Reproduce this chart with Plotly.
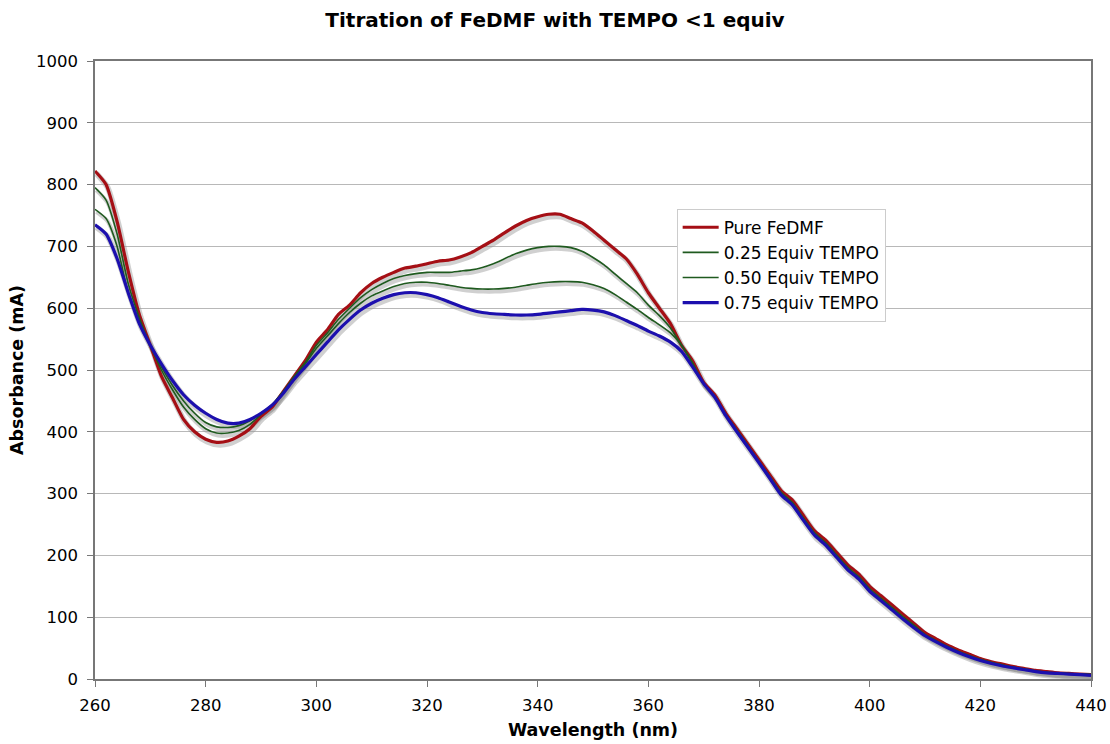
import plotly.graph_objects as go

wl = list(range(260, 442, 2))

pure = [822, 800, 740, 660, 590, 540, 490, 455, 420, 400, 388, 383, 385, 393, 405, 425,
        440, 465, 490, 515, 545, 565, 590, 605, 625, 640, 650, 658, 665, 668, 672, 676,
        678, 683, 690, 700, 710, 722, 733, 742, 748, 752, 752, 745, 738, 725, 710, 695,
        680, 655, 625, 600, 575, 540, 515, 480, 460, 430, 405, 380, 355, 330, 305, 290,
        265, 240, 225, 205, 185, 170, 150, 135, 120, 105, 90, 75, 65, 55, 47, 40,
        33, 28, 24, 20, 17, 14, 12, 10, 9, 8, 7]

eq25 = [795, 775, 720, 640, 585, 540, 500, 468, 440, 420, 405, 398, 398, 402, 412, 428,
        442, 465, 490, 512, 540, 560, 582, 600, 617, 630, 640, 648, 653, 656, 658, 658,
        658, 660, 662, 666, 672, 680, 688, 694, 698, 700, 700, 698, 692, 682, 670, 655,
        640, 625, 605, 588, 568, 540, 512, 478, 458, 428, 403, 378, 352, 327, 302, 286,
        261, 237, 221, 201, 181, 166, 146, 131, 116, 101, 87, 72, 62, 53, 45, 38,
        32, 27, 23, 19, 16, 13, 11, 10, 9, 8, 7]

eq50 = [760, 745, 700, 625, 580, 538, 505, 475, 450, 430, 415, 408, 407, 410, 418, 430,
        444, 465, 488, 510, 535, 555, 575, 593, 608, 620, 628, 635, 640, 642, 642, 640,
        637, 634, 632, 631, 631, 632, 634, 637, 640, 642, 643, 643, 642, 638, 632, 622,
        610, 598, 585, 573, 560, 540, 510, 477, 457, 427, 402, 377, 351, 326, 300, 284,
        259, 235, 219, 199, 179, 164, 144, 129, 114, 99, 85, 71, 61, 52, 44, 37,
        31, 26, 22, 19, 16, 13, 11, 9, 8, 8, 7]

eq75 = [735, 720, 680, 625, 575, 540, 510, 483, 460, 443, 430, 420, 414, 414, 420, 430,
        443, 462, 485, 505, 525, 545, 565, 582, 597, 608, 616, 622, 625, 625, 622, 617,
        610, 603, 597, 593, 591, 590, 589, 589, 590, 592, 594, 596, 598, 597, 594, 588,
        580, 572, 563, 555, 545, 530, 505, 478, 456, 426, 400, 375, 350, 324, 298, 282,
        257, 233, 217, 197, 177, 162, 142, 127, 112, 97, 83, 70, 60, 51, 43, 36,
        30, 25, 21, 18, 15, 12, 10, 9, 8, 7, 6]

series = [
    ("Pure FeDMF", pure, "#a50f15", 3.2),
    ("0.25 Equiv TEMPO", eq25, "#1f5a1f", 1.6),
    ("0.50 Equiv TEMPO", eq50, "#1f5a1f", 1.6),
    ("0.75 equiv TEMPO", eq75, "#1c0fae", 3.2),
]

fig = go.Figure()

# drop shadows
for name, ys, col, w in series:
    fig.add_trace(go.Scatter(
        x=[v + 0.25 for v in wl], y=[v - 4 for v in ys], mode="lines",
        line=dict(color="rgba(150,150,150,0.45)", width=w + 2.5, shape="spline", smoothing=0.6),
        showlegend=False, hoverinfo="skip"))

for name, ys, col, w in series:
    fig.add_trace(go.Scatter(
        x=wl, y=ys, mode="lines", name=name,
        line=dict(color=col, width=w, shape="spline", smoothing=0.6)))

fig.update_layout(
    width=1110, height=744,
    paper_bgcolor="white", plot_bgcolor="white",
    margin=dict(l=95, r=19, t=61, b=65, autoexpand=False),
    font=dict(family="DejaVu Sans", size=16, color="black"),
    title=dict(text="<b>Titration of FeDMF with TEMPO &lt;1 equiv</b>",
               x=0.5, xanchor="center", y=0.973, yanchor="middle",
               font=dict(size=20, family="DejaVu Sans")),
    legend=dict(x=0.584, y=0.761, xanchor="left", yanchor="top",
                bgcolor="white", bordercolor="#cccccc", borderwidth=1,
                font=dict(size=17, family="DejaVu Sans"),
                tracegroupgap=0, itemwidth=36),
    showlegend=True,
)

fig.update_xaxes(
    range=[260, 440], tickvals=list(range(260, 441, 20)),
    showgrid=False, showline=True, linecolor="#777777", linewidth=1.5, mirror=True,
    ticks="outside", ticklen=6, tickcolor="#777777", ticklabelstandoff=4,
    title=dict(text="<b>Wavelength (nm)</b>", font=dict(size=17.5), standoff=10),
    tickfont=dict(size=16.5), zeroline=False, automargin=False)

fig.update_yaxes(
    range=[0, 1000], tickvals=list(range(0, 1001, 100)),
    showgrid=True, gridcolor="#b8b8b8", gridwidth=1,
    showline=True, linecolor="#777777", linewidth=1.5, mirror=True,
    ticks="outside", ticklen=6, tickcolor="#777777", ticklabelstandoff=6,
    title=dict(text="<b>Absorbance (mA)</b>", font=dict(size=17.5), standoff=8),
    tickfont=dict(size=16.5), zeroline=False, automargin=False)

fig.write_html("out.html")
